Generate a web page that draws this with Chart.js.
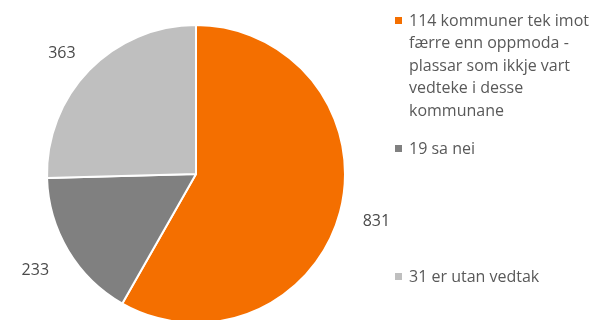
<!DOCTYPE html>
<html>
<head>
<meta charset="utf-8">
<script src="https://cdn.jsdelivr.net/npm/chart.js@4"></script>
<style>
  html, body { margin: 0; padding: 0; background: #fff; }
  #wrap { width: 600px; height: 320px; position: relative; }
</style>
</head>
<body>
<div id="wrap"><canvas id="pie"></canvas></div>
<script>
// each category is a list of legend lines
const labels = [
  ['114 kommuner tek imot', 'færre enn oppmoda -', 'plassar som ikkje vart', 'vedteke i desse', 'kommunane'],
  ['19 sa nei'],
  ['31 er utan vedtak'],
];
const values = [831, 233, 363];
const colors = ['#F46F00', '#808080', '#BFBFBF'];

const FONT = '"Open Sans", sans-serif';
const TEXT = '#595959';

// value labels just outside each slice
const outsideLabels = {
  id: 'outsideLabels',
  afterDatasetsDraw(chart) {
    const ctx = chart.ctx;
    const meta = chart.getDatasetMeta(0);
    ctx.save();
    ctx.font = '16px ' + FONT;
    ctx.fillStyle = '#4a4a4a';
    ctx.textAlign = 'center';
    ctx.textBaseline = 'middle';
    meta.data.forEach((arc, i) => {
      const p = arc.getProps(['x', 'y', 'startAngle', 'endAngle', 'outerRadius'], true);
      const mid = (p.startAngle + p.endAngle) / 2;
      const dx = Math.cos(mid), dy = Math.sin(mid);
      const txt = String(chart.data.datasets[0].data[i]);
      const w = ctx.measureText(txt).width / 2, h = 9;
      const dist = p.outerRadius + 22 + Math.abs(dx) * w + Math.abs(dy) * h;
      // upper-left labels sit a little lower, closer to the horizontal
      const lift = dy < 0 && dx < 0 ? 10 : 0;
      ctx.fillText(txt, p.x + dx * dist, p.y + dy * dist + lift);
    });
    ctx.restore();
  }
};

// legend on the right, items spread down the side
const sideLegend = {
  id: 'sideLegend',
  afterDraw(chart, args, opts) {
    const ctx = chart.ctx;
    ctx.save();
    ctx.font = '16px ' + FONT;
    ctx.textBaseline = 'middle';
    ctx.textAlign = 'left';
    chart.data.labels.forEach((lines, i) => {
      const y0 = opts.top + i * opts.step;
      ctx.fillStyle = chart.data.datasets[0].backgroundColor[i];
      ctx.fillRect(opts.x, y0 - 4, 7, 7);
      ctx.fillStyle = TEXT;
      lines.forEach((line, j) => {
        ctx.fillText(line, opts.x + 14, y0 + j * opts.lineHeight);
      });
    });
    ctx.restore();
  }
};

new Chart(document.getElementById('pie'), {
  type: 'pie',
  data: {
    labels,
    datasets: [{
      data: values,
      backgroundColor: colors,
      borderColor: '#ffffff',
      borderWidth: 2,
      radius: 149,
      clip: false,
    }],
  },
  options: {
    responsive: true,
    maintainAspectRatio: false,
    animation: false,
    layout: { padding: { left: 0, right: 208, top: 28, bottom: 0 } },
    plugins: {
      legend: { display: false },
      tooltip: { enabled: false },
      sideLegend: { x: 395, top: 21, step: 128, lineHeight: 22.5 },
    },
  },
  plugins: [outsideLabels, sideLegend],
});
</script>
</body>
</html>
